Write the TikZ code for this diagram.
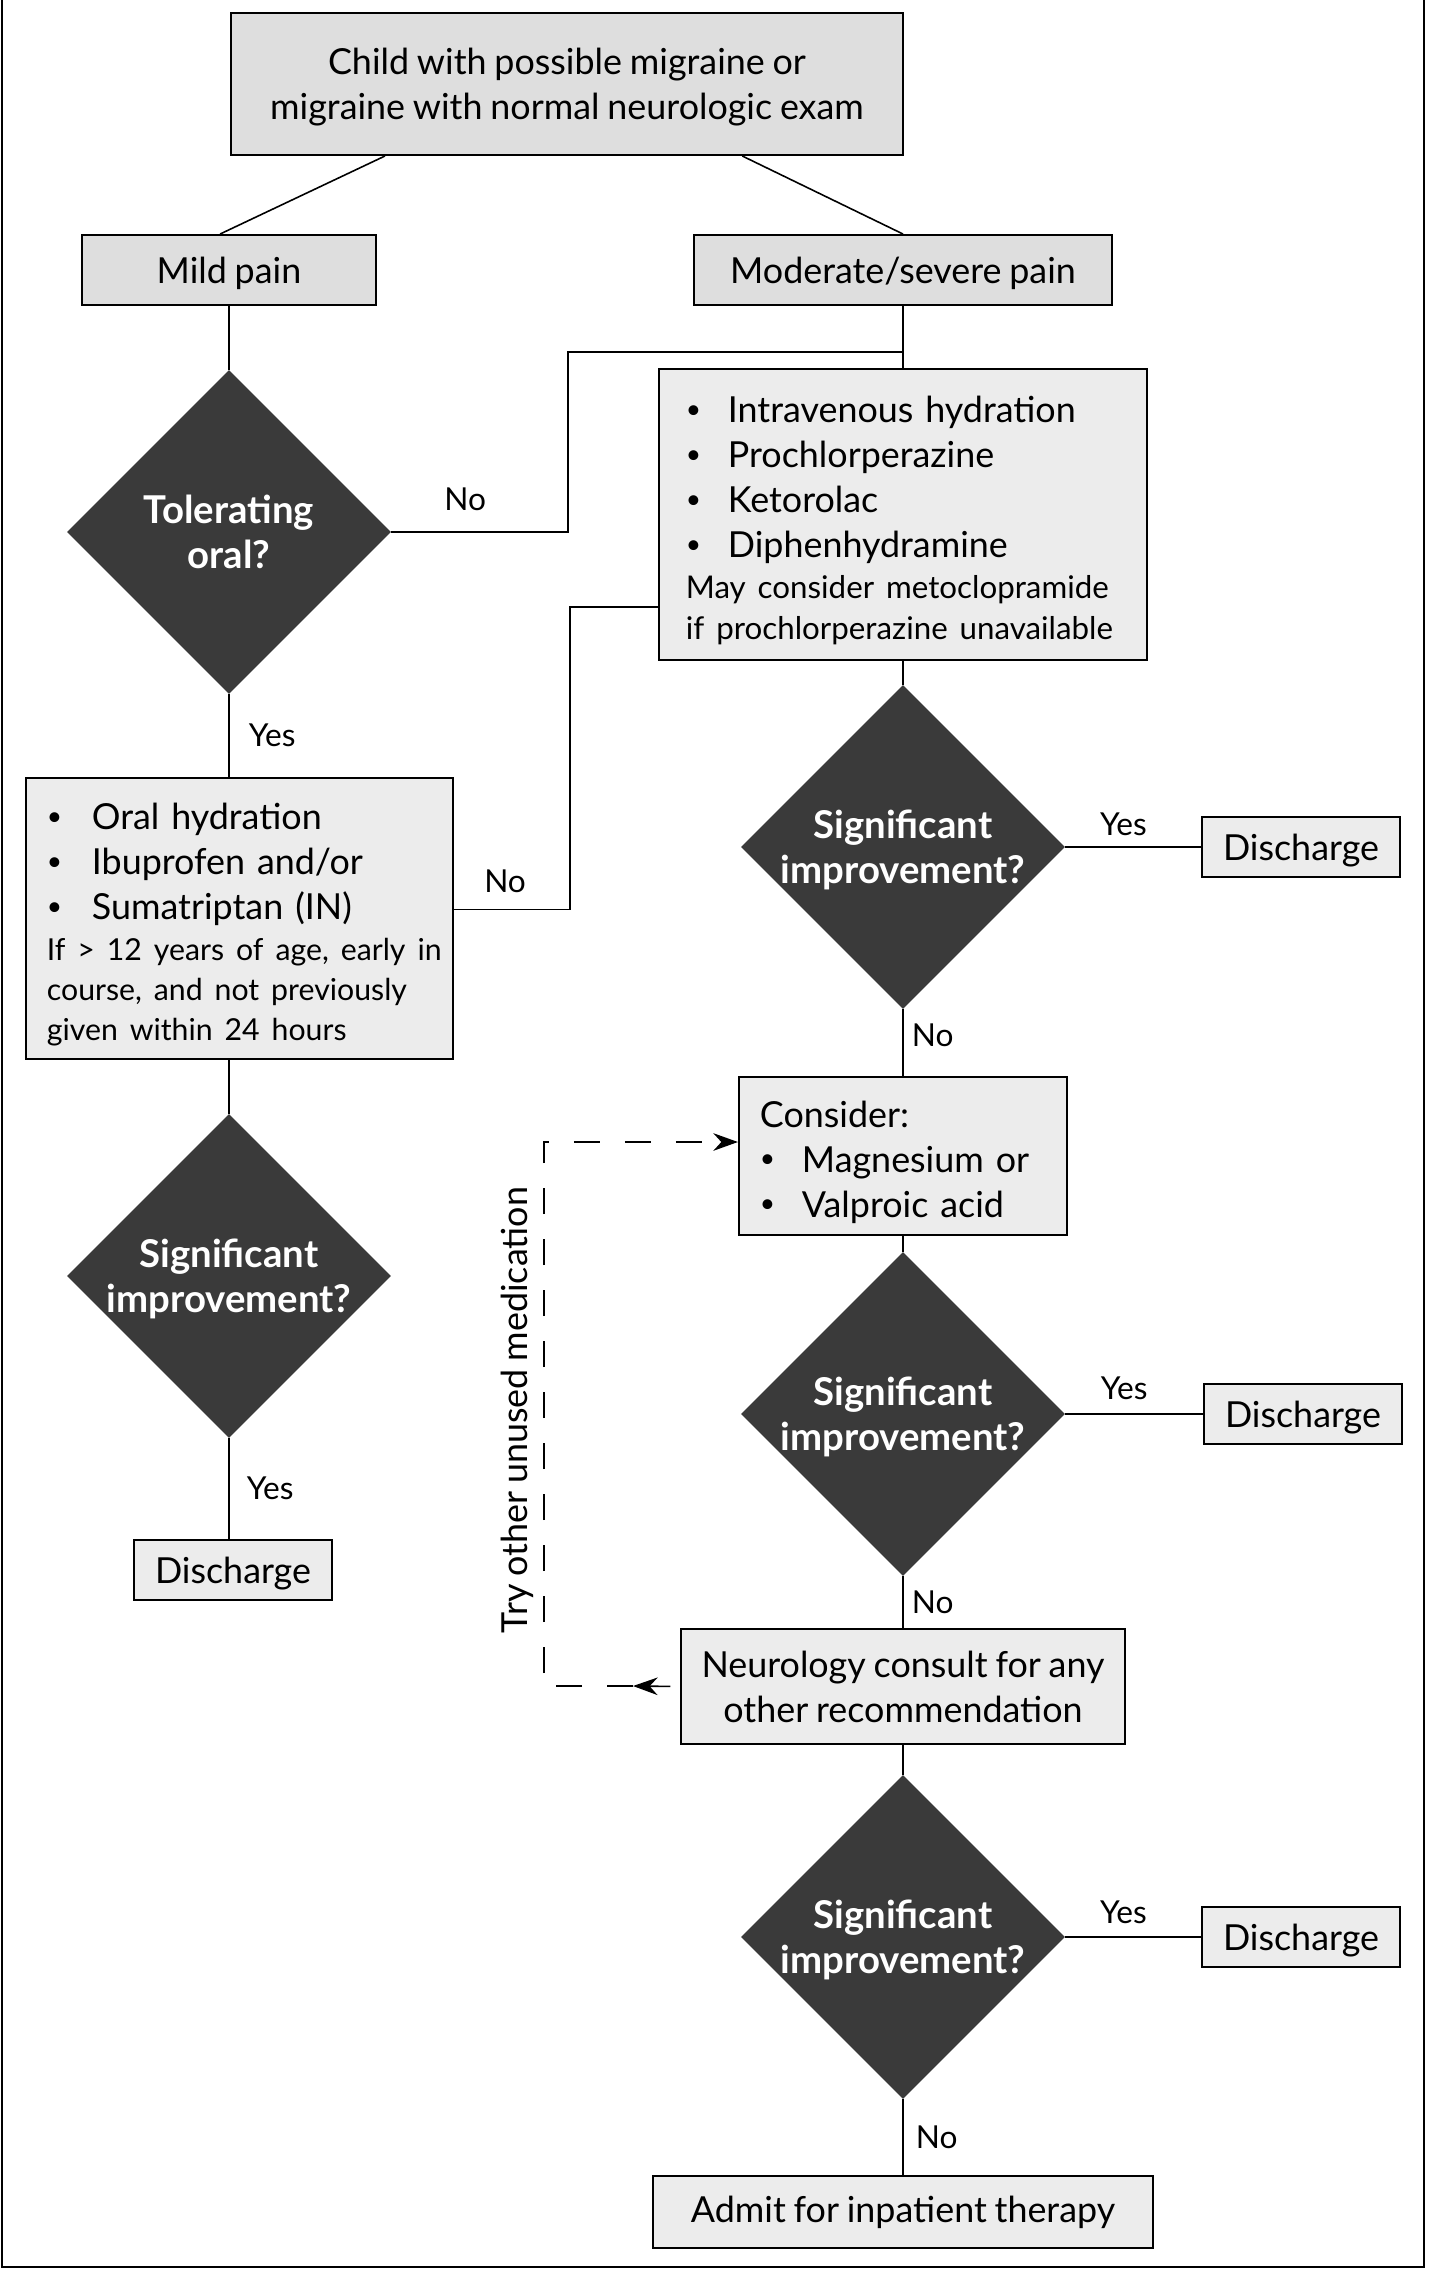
\documentclass[tikz,border=0pt]{standalone}
\usepackage{fontspec}
\setmainfont{Lato}[WordSpace=0.85]
\usetikzlibrary{arrows.meta,shapes.geometric,calc}
\definecolor{boxgray}{RGB}{222,222,222}
\definecolor{boxlight}{RGB}{236,236,236}
\definecolor{decdark}{RGB}{58,58,58}
\setlength{\parindent}{0pt}
\newcommand{\bul}[2][0.42cm]{\makebox[#1][l]{\raisebox{0.12em}{\fontsize{7.5}{7.5}\selectfont\textbullet}}#2}
\newcommand{\smalltxt}{\fontsize{8.9}{11.6}\selectfont}

\begin{document}
\begin{tikzpicture}[x=0.01cm,y=-0.01cm,line join=miter,
  plainbox/.style={draw=black,line width=0.55pt,fill=boxlight,inner sep=0pt,font=\fontsize{10.2}{12.8}\selectfont},
  box/.style={plainbox,text depth=0pt},
  boxdark/.style={box,fill=boxgray},
  listbox/.style={plainbox,align=left,text height=11pt},
  decision/.style={diamond,shape aspect=1,fill=decdark,draw=decdark,minimum width=3.22cm,minimum height=3.22cm,inner sep=0pt,text depth=0pt,text=white,align=center,font=\bfseries\fontsize{10.9}{12.8}\selectfont},
  conn/.style={line width=0.45pt},
  dashconn/.style={line width=0.55pt,dash pattern=on 7.5pt off 7pt},
  lbl/.style={inner sep=0pt,font=\fontsize{9}{11}\selectfont},
  tip/.style={-{Stealth[length=7pt,width=5pt]}}]
\useasboundingbox (0,0) rectangle (1431,2284);
\draw[line width=0.5pt] (2,0) -- (2,2267) -- (1424,2267) -- (1424,0);

% boxes
\node[boxdark,minimum width=6.72cm,minimum height=1.42cm,align=center] (start) at (567,84) {Child with possible migraine or\\migraine with normal neurologic exam};
\node[boxdark,minimum width=2.94cm,minimum height=0.70cm] (mild) at (229,270) {Mild pain};
\node[boxdark,minimum width=4.17cm,minimum height=0.70cm] (mod) at (903,270) {Moderate/severe pain};
\node[decision] (tol) at (229,532) {Tolerating\\oral?};
\node[listbox,minimum width=4.88cm,minimum height=2.91cm,text width=4.34cm] (iv) at (903,514.5) {\bul{Intravenous hydration}\\\bul{Prochlorperazine}\\\bul{Ketorolac}\\\bul{Diphenhydramine}\par
  {\smalltxt\mbox{May consider metoclopramide}\\\mbox{if prochlorperazine unavailable}\par}};
\node[listbox,minimum width=4.27cm,minimum height=2.81cm,text width=3.85cm] (oral) at (239.5,918.5) {\bul[0.45cm]{Oral hydration}\\\bul[0.45cm]{Ibuprofen and/or}\\\bul[0.45cm]{Sumatriptan (IN)}\par
  {\fontsize{8.6}{11.4}\selectfont\mbox{If > 12 years of age, early in}\\\mbox{course, and not previously}\\\mbox{given within 24 hours}\par}};
\node[decision] (sigL) at (229,1276) {Significant\\improvement?};
\node[box,minimum width=1.98cm,minimum height=0.60cm] (disL) at (233,1570) {Discharge};

\node[decision] (sig1) at (903,847) {Significant\\improvement?};
\node[box,minimum width=1.98cm,minimum height=0.60cm] (dis1) at (1301,847) {Discharge};
\node[listbox,minimum width=3.28cm,minimum height=1.58cm,text width=2.86cm] (cons) at (903,1156) {Consider:\\\bul{Magnesium or}\\\bul{Valproic acid}};
\node[decision] (sig2) at (903,1414) {Significant\\improvement?};
\node[box,minimum width=1.98cm,minimum height=0.60cm] (dis2) at (1303,1414) {Discharge};
\node[plainbox,minimum width=4.43cm,minimum height=1.15cm,align=center] (neuro) at (903,1686.5) {Neurology consult for any\\other recommendation};
\node[decision] (sig3) at (903,1937) {Significant\\improvement?};
\node[box,minimum width=1.98cm,minimum height=0.60cm] (dis3) at (1301,1937) {Discharge};
\node[plainbox,minimum width=5.0cm,minimum height=0.72cm] (admit) at (903,2212) {Admit for inpatient therapy};

\node[rotate=90,inner sep=0pt,font=\fontsize{10.2}{12.8}\selectfont] (retry) at (517,1410) {Try other unused medication};

% connectors
\coordinate (k1) at (568,352);
\coordinate (k2) at (570,607);
\coordinate (d1) at (633,1686);
\coordinate (d2) at (544,1686);
\draw[conn] ($(start.south west)!.23!(start.south east)$) -- ($(mild.north west)!.47!(mild.north east)$);
\draw[conn] ($(start.south west)!.76!(start.south east)$) -- (mod.north);
\draw[conn] (mild) -- (tol);
\draw[conn] (mod) -- (iv);
\draw[conn] (tol.east) -| node[lbl,pos=.21,above=0.2cm] (no1) {No} (k1) -- (k1 -| mod.south);
\draw[conn] (tol.south) -- (tol.south |- oral.north) node[lbl,midway,right=0.19cm] (yes1) {Yes};
\draw[conn] ([yshift=0.09cm]oral.east) -| node[lbl,pos=.22,above=0.16cm] (no2) {No} (k2) -- (k2 -| iv.west);
\draw[conn] (sigL.north |- oral.south) -- (sigL);
\draw[conn] (sigL.south) -- (sigL.south |- disL.north) node[lbl,midway,right=0.17cm] (yes2) {Yes};
\draw[conn] (iv) -- (sig1);
\draw[conn] (sig1) -- (dis1) node[lbl,pos=.43,above=0.1cm] (yes3) {Yes};
\draw[conn] (sig1) -- (cons) node[lbl,pos=.4,right=0.08cm] (no3) {No};
\draw[conn] (cons) -- (sig2);
\draw[conn] (sig2) -- (dis2) node[lbl,pos=.43,above=0.13cm] (yes4) {Yes};
\draw[conn] (sig2) -- (neuro) node[lbl,midway,right=0.08cm] (no4) {No};
\draw[conn] (neuro) -- (sig3);
\draw[conn] (sig3) -- (dis3) node[lbl,pos=.43,above=0.12cm] (yes5) {Yes};
\draw[conn] (sig3) -- (admit) node[lbl,midway,right=0.12cm] (no5) {No};
\draw[conn,tip,shorten <=0.1cm] (neuro.west) -- (d1);
\draw[dashconn,tip] (d1) -- (d2) |- ([yshift=0.14cm]cons.west);
\end{tikzpicture}
\end{document}
